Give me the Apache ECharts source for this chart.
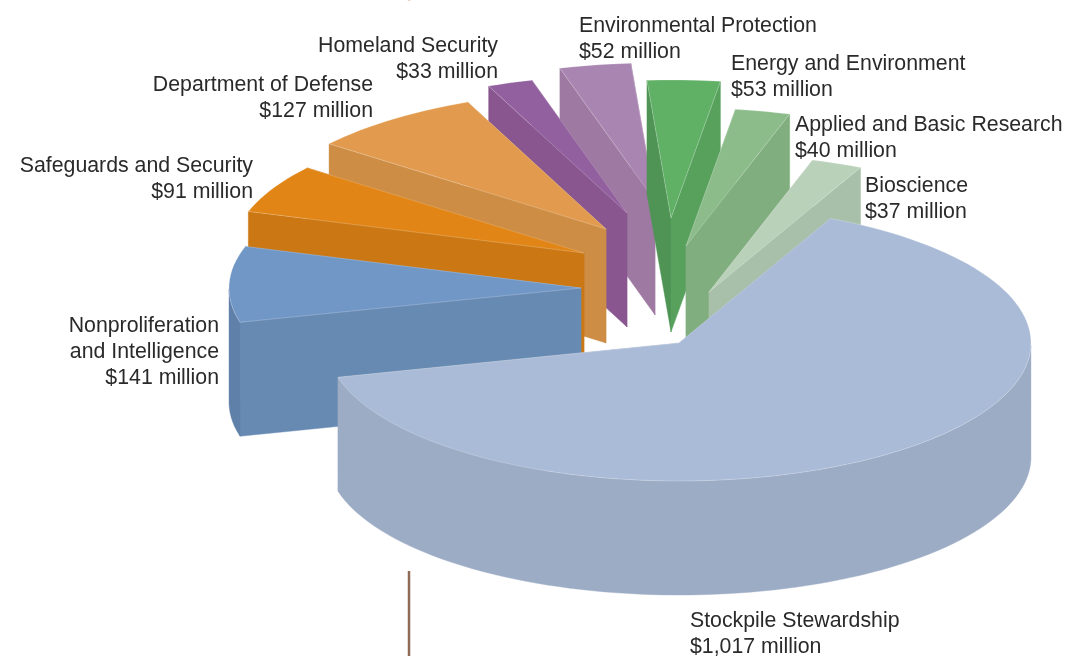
<!DOCTYPE html>
<html>
<head>
<meta charset="utf-8">
<style>html,body{margin:0;padding:0;background:#fff}#chart{width:1068px;height:656px}</style>
<script src="https://cdn.jsdelivr.net/npm/echarts@6/dist/echarts.min.js"></script>
</head>
<body>
<div id="chart"></div>
<script>
// Budget slices, clockwise from the large slice
const categories = ['Stockpile Stewardship', 'Nonproliferation\nand Intelligence', 'Safeguards and Security',
  'Department of Defense', 'Homeland Security', 'Environmental Protection', 'Energy and Environment',
  'Applied and Basic Research', 'Bioscience'];
const millions = [1017, 141, 91, 127, 33, 52, 53, 40, 37];

// Colours of each slice's faces
const topColors = ['#aabbd7', '#7097c6', '#e18517', '#e29b4e', '#92609f', '#a985b1', '#60b066', '#8cbc8a', '#b9d0b9'];
const startWallColors = ['#9cacc5', '#678ab3', '#cb7714', '#cd8d45', '#895690', '#9e79a2', '#4f9455', '#80ae7f', '#a8bfa9'];
const endWallColors = ['#9cacc5', '#678ab3', '#cb7714', '#cd8d45', '#895690', '#9e79a2', '#58a15d', '#80ae7f', '#a8bfa9'];
const rimColors = ['#9cacc5', '#5f80a8', '#cb7714', '#cd8d45', '#895690', '#9e79a2', '#58a15d', '#80ae7f', '#a8bfa9'];

// Pie layout: pull-out of each slice from the pie centre, and back-to-front paint rank
const pullOut = [[0, 0], [-98, -55], [-95, -90], [-73, -114], [-52, -130], [-24, -142], [-8, -125], [7, -97], [30, -51]];
const paintRank = [8, 4, 3, 2, 1, 0, 5, 6, 7];
const pieCentre = [679, 343];
const radiusX = 352, radiusY = 138, depth = 114, firstAngle = 64.5;

// Label anchors: x, top of text block, alignment
const labelAnchors = [[690, 608, 'left'], [219, 313, 'right'], [253, 153, 'right'], [373, 72, 'right'],
  [498, 33, 'right'], [579, 13, 'left'], [731, 51, 'left'], [795, 112, 'left'], [865, 173, 'left']];

const total = millions.reduce((a, b) => a + b, 0);
let running = 0;
const rows = millions.map((v, i) => {
  const row = [running, running + v, i];
  running += v;
  return row;
}).sort((a, b) => paintRank[a[2]] - paintRank[b[2]]);

function polygon(points, fill, z2, stroke, strokeWidth) {
  return {
    type: 'polygon',
    z2,
    shape: { points },
    style: { fill, stroke: stroke || fill, lineWidth: strokeWidth === undefined ? 0.4 : strokeWidth }
  };
}

function renderSlice(params, api) {
  const from = api.value(0), to = api.value(1), i = api.value(2);
  const [dx, dy] = pullOut[i];
  const rank = paintRank[i] * 10;
  // The hidden polar system gives the point on the circle; it is flattened into the pie's tilt
  const place = (r, v) => {
    const p = api.coord([r, v]);
    return [p[0] + dx, pieCentre[1] + (p[1] - pieCentre[1]) * radiusY / radiusX + dy];
  };
  const down = p => [p[0], p[1] + depth];
  const apex = place(0, from);
  const first = place(1, from), last = place(1, to);

  const steps = Math.max(2, Math.ceil((to - from) / total * 180));
  const arc = [];
  for (let s = 0; s <= steps; s++) arc.push(from + (to - from) * s / steps);
  const arcPoints = arc.map(v => place(1, v));

  // The wall nearer the viewer is painted last
  const walls = [
    { edge: first, fill: startWallColors[i] },
    { edge: last, fill: endWallColors[i] }
  ].sort((a, b) => a.edge[1] - b.edge[1]);

  const children = walls.map((w, k) =>
    polygon([apex, w.edge, down(w.edge), down(apex)], w.fill, rank + k));

  // Only the front half of the rim faces the viewer
  const rim = arcPoints.filter(p => p[1] - dy >= pieCentre[1]);
  if (rim.length > 1) {
    children.push(polygon(rim.concat(rim.slice().reverse().map(down)), rimColors[i], rank + 2));
  }
  children.push(polygon([apex].concat(arcPoints), topColors[i], rank + 3, 'rgba(255,255,255,0.45)', 0.5));
  return { type: 'group', children };
}

const labelGraphics = categories.map((name, i) => ({
  type: 'text',
  x: labelAnchors[i][0],
  y: labelAnchors[i][1],
  style: {
    text: name + '\n$' + millions[i].toLocaleString('en-US') + ' million',
    font: '21.3px "Liberation Sans", Arial, sans-serif',
    fill: '#2a2a2a',
    align: labelAnchors[i][2],
    verticalAlign: 'top',
    lineHeight: 26
  }
}));

const chart = echarts.init(document.getElementById('chart'), null, { renderer: 'canvas' });
chart.setOption({
  animation: false,
  backgroundColor: '#fff',
  polar: { center: pieCentre, radius: [0, radiusX] },
  angleAxis: { type: 'value', min: 0, max: total, startAngle: firstAngle, clockwise: true, show: false },
  radiusAxis: { type: 'value', min: 0, max: 1, show: false },
  series: [{
    type: 'custom',
    coordinateSystem: 'polar',
    renderItem: renderSlice,
    data: rows,
    encode: { radius: 2, angle: 0 },
    silent: true
  }],
  graphic: labelGraphics.concat([
    { type: 'line', shape: { x1: 409, y1: 571, x2: 409, y2: 656 }, style: { stroke: '#8f6a55', lineWidth: 2.5 } },
    { type: 'line', shape: { x1: 409, y1: 0, x2: 409, y2: 1 }, style: { stroke: '#e8d5c8', lineWidth: 2.5 } }
  ])
});
</script>
</body>
</html>
